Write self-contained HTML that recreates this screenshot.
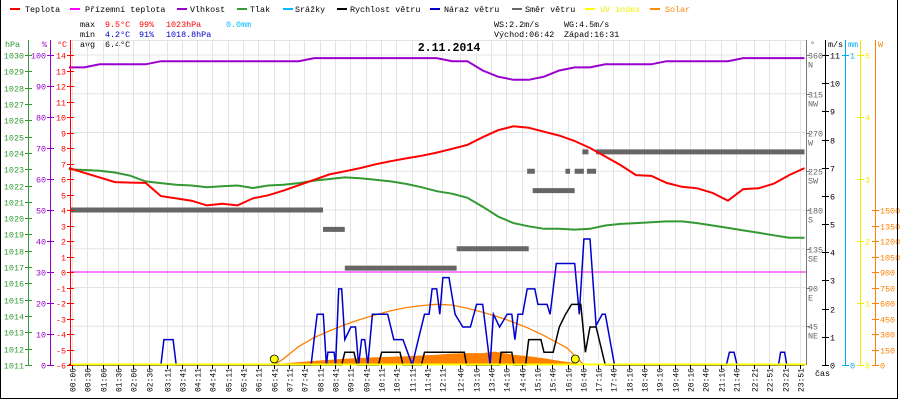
<!DOCTYPE html>
<html><head><meta charset="utf-8"><style>
html,body{margin:0;padding:0;background:#fff;}
svg{display:block;font-family:"Liberation Mono",monospace;}
</style></head><body>
<svg id="chart" width="900" height="400" xmlns="http://www.w3.org/2000/svg">
<rect x="0" y="0" width="900" height="400" fill="#fff"/>
<g font-size="8.4">
 <g><rect x="10" y="8" width="10" height="2" fill="#f00"/><text x="25" y="12">Teplota</text></g>
 <g><rect x="70" y="8" width="10" height="2" fill="#f0f"/><text x="85" y="12">Přízemní teplota</text></g>
 <g><rect x="177" y="8" width="10" height="2" fill="#90c"/><text x="190" y="12">Vlhkost</text></g>
 <g><rect x="237" y="8" width="10" height="2" fill="#393"/><text x="250" y="12">Tlak</text></g>
 <g><rect x="283" y="8" width="10" height="2" fill="#0bf"/><text x="295" y="12">Srážky</text></g>
 <g><rect x="337" y="8" width="10" height="2" fill="#000"/><text x="350" y="12">Rychlost větru</text></g>
 <g><rect x="430" y="8" width="10" height="2" fill="#00c"/><text x="444" y="12">Náraz větru</text></g>
 <g><rect x="512" y="8" width="10" height="2" fill="#666"/><text x="525" y="12">Směr větru</text></g>
 <g><rect x="585" y="8" width="10" height="2" fill="#ff0"/><text x="600" y="12" fill="#ee0">UV index</text></g>
 <g><rect x="650" y="8" width="10" height="2" fill="#f80"/><text x="665" y="12" fill="#f80">Solar</text></g>
</g>
<g font-size="8.4">
 <text x="80" y="27">max</text><text x="105" y="27" fill="#f00">9.5°C</text><text x="139" y="27" fill="#f00">99%</text><text x="166" y="27" fill="#f00">1023hPa</text><text x="226" y="27" fill="#0bf">0.0mm</text>
 <text x="80" y="37">min</text><text x="105" y="37" fill="#00c">4.2°C</text><text x="139" y="37" fill="#00c">91%</text><text x="166" y="37" fill="#00c">1018.8hPa</text>
 <text x="80" y="47">avg</text><text x="105" y="47">6.4°C</text>
 <text x="494" y="27">WS:2.2m/s</text><text x="564" y="27">WG:4.5m/s</text>
 <text x="494" y="37">Východ:06:42</text><text x="564" y="37">Západ:16:31</text>
</g>
<g id="grid"></g>
<rect x="416" y="41" width="66" height="12" fill="#fff"/>
<text x="449" y="51" font-size="11.6" font-weight="bold" text-anchor="middle">2.11.2014</text>
<g id="series"></g>
<g id="axes" font-size="8.4"></g>
<text x="815" y="376" font-size="8.4">čas</text>
<path d="M0.5,0 V398.5 H897.5 V0" fill="none" stroke="#000"/>
</svg>
<script>
const tempValues=[6.7,6.4,6.1,5.8,5.77,5.75,4.9,4.75,4.6,4.3,4.4,4.3,4.75,4.95,5.25,5.6,5.95,6.3,6.5,6.7,6.95,7.15,7.33,7.5,7.7,7.95,8.2,8.7,9.15,9.4,9.3,9.05,8.8,8.45,8.0,7.45,6.9,6.25,6.2,5.75,5.5,5.4,5.1,4.6,5.35,5.4,5.7,6.25,6.7];
const humValues=[96,96,97,97,97,97,98,98,98,98,98,98,98,98,98,98,99,99,99,99,99,99,99,99,99,98,98,95,93,92,92,93,95,96,96,97,97,97,97,98,98,98,98,98,99,99,99,99,99];
const pressValues=[1023.0,1022.95,1022.9,1022.8,1022.6,1022.25,1022.15,1022.05,1022.0,1021.9,1021.95,1022.0,1021.85,1022.0,1022.05,1022.15,1022.3,1022.4,1022.5,1022.45,1022.35,1022.25,1022.1,1021.9,1021.65,1021.5,1021.25,1020.7,1020.1,1019.7,1019.5,1019.35,1019.35,1019.3,1019.35,1019.55,1019.65,1019.7,1019.75,1019.8,1019.8,1019.7,1019.55,1019.4,1019.25,1019.1,1018.95,1018.8,1018.8];
const sampleStepHours=0.5;
const gustT=[0,3.0,3.1,3.4,3.5,7.9,8.0,8.1,8.3,8.4,8.45,8.65,8.7,8.8,8.9,9.0,9.2,9.35,9.45,9.55,9.65,9.75,9.9,10.4,10.6,10.9,11.2,11.4,11.6,11.75,11.85,12.0,12.1,12.2,12.4,12.6,12.85,13.1,13.3,13.5,13.74,13.85,14.05,14.3,14.45,14.55,14.65,14.8,14.95,15.2,15.3,15.6,15.7,15.9,16.5,16.65,16.8,17.0,17.2,17.4,17.5,17.8,21.45,21.55,21.7,21.8,23.15,23.22,23.35,23.42,24];
const gustV=[0,0,0.9,0.9,0,0,0.9,1.8,1.8,0,0.45,0.45,0,2.7,2.7,0.9,1.35,1.35,0,0.9,0.9,0,1.8,1.8,0.9,0.9,0,0.9,1.8,1.8,2.7,2.7,1.8,3.1,3.1,1.8,1.35,1.35,2.15,2.15,0,1.8,1.35,1.8,1.8,0.9,1.8,1.8,2.7,2.7,2.15,2.15,1.8,3.6,3.6,1.8,4.47,4.47,1.4,1.8,1.8,0,0,0.45,0.45,0,0,0.45,0.45,0,0];
const speedT=[0,8.9,9.0,9.3,9.4,10.1,10.2,10.8,10.9,11.5,11.6,12.9,12.97,14.05,14.1,14.45,14.52,14.9,15.0,15.4,15.5,15.8,16.0,16.2,16.4,16.7,16.85,17.0,17.2,17.5,24];
const speedV=[0,0,0.45,0.45,0,0,0.45,0.45,0,0,0.45,0.45,0,0,0.45,0.45,0,0,0.9,0.9,0.45,0.45,1.35,1.8,2.15,2.15,0.45,1.35,1.35,0,0];
const solarT=[6.9,7.0,8,9,10,11,12,12.5,13,13.5,13.9,14.1,14.5,15,15.5,16,16.5,16.8];
const solarV=[0,15,40,60,75,85,100,110,115,115,130,120,100,85,65,40,20,0];
const solarMaxT=[6.7,7.0,7.5,8,8.5,9,9.5,10,10.5,11,11.5,12,12.5,13,13.5,14,14.5,15,15.5,16,16.25,16.5,16.8];
const solarMaxV=[0,60,180,265,330,390,440,485,525,555,575,587,580,550,510,465,415,355,285,205,165,90,0];
const dirStart=[0,8.29,9.0,12.65,14.95,15.13,16.3,16.2,16.5,16.9,16.75,17.2];
const dirEnd=[8.29,9.0,12.65,15.0,15.2,16.3,16.5,16.35,16.8,17.2,16.95,24];
const dirDeg=[180,157.5,112.5,135,225,202.5,202.5,225,225,225,247.5,247.5];
const sunEvents=[6.7,16.52];
const timeLabels=["00:06","00:36","01:06","01:36","02:06","02:36","03:11","03:41","04:11","04:41","05:11","05:41","06:11","06:41","07:11","07:41","08:11","08:41","09:11","09:41","10:11","10:41","11:11","11:41","12:11","12:46","13:16","13:46","14:16","14:46","15:16","15:46","16:16","16:46","17:16","17:46","18:16","18:46","19:16","19:46","20:16","20:46","21:16","21:46","22:21","22:51","23:21","23:51"];
const NS="http://www.w3.org/2000/svg";
const xS=h=>72+(h-0.1)*30.65;
const yT=t=>272-t*15.5;
const yH=p=>365-p*3.1;
const yP=v=>365-(v-1011)*310/19;
const yW=v=>365-v*310/11;
const yD=d=>365-d*310/360;
const yS=w=>365-w*310/3000;
const yUV=u=>365-u*62;
function el(tag,attrs,parent){const e=document.createElementNS(NS,tag);for(const k in attrs)e.setAttribute(k,attrs[k]);parent.appendChild(e);return e;}
const grid=document.getElementById('grid'),ser=document.getElementById('series'),ax=document.getElementById('axes');
function labelX(s){const p=s.split(':');return xS(+p[0]+p[1]/60);}
for(let k=0;k<8;k++){const g=el('line',{x1:71,x2:806,y1:55+38.75*k,y2:55+38.75*k,stroke:'#e4e4e4'},grid);

}
const gt=el('line',{x1:71,x2:806,y1:40.5,y2:40.5,stroke:'#e4e4e4'},grid);


timeLabels.forEach(s=>{const x=Math.round(labelX(s))+0.5;
const g=el('line',{x1:x,x2:x,y1:40,y2:365,stroke:'#e4e4e4'},grid);


const tk=el('line',{x1:x,x2:x,y1:365,y2:369,stroke:'#000'},ax);


const t=el('text',{x:x+3,y:368,'text-anchor':'end',transform:`rotate(-90 ${x+3} 368)`,'font-size':'8'},ax);
t.textContent=s;

});
function pathFrom(ts,vs,fx,fy){return ts.map((t,i)=>(i?'L':'M')+fx(t).toFixed(1)+','+fy(vs[i]).toFixed(1)).join(' ');}
const stepTimes=tempValues.map((_,i)=>i*sampleStepHours);
const sa=el('path',{d:pathFrom(solarT,solarV,xS,yS)+'Z',fill:'#ff8000',stroke:'none'},ser);


const sm=el('path',{d:pathFrom(solarMaxT,solarMaxV,xS,yS),fill:'none',stroke:'#ff8000','stroke-width':1.3},ser);


const ap=el('line',{x1:71,x2:806,y1:yT(0),y2:yT(0),stroke:'#f0f','stroke-width':1},ser);


dirDeg.forEach((d,i)=>{const r=el('rect',{x:Math.max(71,xS(dirStart[i])),y:yD(d)-2.5,width:xS(dirEnd[i])-Math.max(71,xS(dirStart[i])),height:5,fill:'#666'},ser);

});
const pr=el('path',{d:pathFrom(stepTimes,pressValues,xS,yP),fill:'none',stroke:'#339933','stroke-width':2},ser);


const hu=el('path',{d:pathFrom(stepTimes,humValues,xS,yH),fill:'none',stroke:'#9900cc','stroke-width':2},ser);


const te=el('path',{d:pathFrom(stepTimes,tempValues,xS,yT),fill:'none',stroke:'#ff0000','stroke-width':2},ser);


const gu=el('path',{d:pathFrom(gustT,gustV,xS,yW),fill:'none',stroke:'#0000cc','stroke-width':1.5},ser);


const sp=el('path',{d:pathFrom(speedT,speedV,xS,yW),fill:'none',stroke:'#000','stroke-width':1.5},ser);


const uv=el('line',{x1:71,x2:806,y1:364.5,y2:364.5,stroke:'#ff0','stroke-width':2},ser);


sunEvents.forEach(h=>{const c=el('circle',{cx:xS(h),cy:359,r:4,fill:'#ff0',stroke:'#000','stroke-width':0.8},ser);

});
function axis(name,x,color,ticks,fy,labelFn,side,top){
 const l=el('line',{x1:x+0.5,x2:x+0.5,y1:top,y2:365,stroke:color},ax);
 
 
 ticks.forEach(v=>{const y=Math.round(fy(v))+0.5;
  const t=el('line',{x1:x-3,x2:x+4,y1:y,y2:y,stroke:color},ax);
  
  
  const s=labelFn(v);if(s===null)return;
  const tx=el('text',{x:side<0?x-4:x+5,y:y+3,'text-anchor':side<0?'end':'start',fill:color},ax);
  tx.textContent=s;
  
  });
}
const range=(a,b,s)=>{const r=[];for(let v=a;v<=b+1e-9;v+=s)r.push(v);return r;};
axis('pressure-axis',28,'#339933',range(1011,1030,1),yP,v=>String(v),-1,40);
axis('humidity-axis',50,'#9900cc',range(0,100,10),yH,v=>String(v),-1,40);
axis('temperature-axis',70,'#ff0000',range(-6,14,1),yT,v=>String(v),-1,40);
axis('wind-speed-axis',825,'#000',range(0,11,1),yW,v=>String(v),1,40);
axis('rain-axis',845,'#00aaee',[0,1],v=>365-v*310,v=>String(v),1,40);
axis('uv-axis',860,'#eeee00',range(0,5,1),yUV,v=>String(v),1,40);
axis('solar-axis',875,'#ff8000',range(0,1500,150),yS,v=>String(v),1,40);
const dl=el('line',{x1:806.5,x2:806.5,y1:40,y2:365,stroke:'#777'},ax);


const dirNames=['','NE','E','SE','S','SW','W','NW','N'];
for(let k=1;k<=8;k++){const d=k*45,y=Math.round(yD(d))+0.5;
 const t=el('line',{x1:806,x2:810,y1:y,y2:y,stroke:'#777'},ax);
 
 
 const a=el('text',{x:808,y:y+3,fill:'#666'},ax);a.textContent=String(d);
 
 
 const b=el('text',{x:808,y:y+12,fill:'#666'},ax);b.textContent=dirNames[k];
 
 }
[['hPa',5,'#339933'],['%',42,'#9900cc'],['°C',57,'#f00'],['°',810,'#666'],['m/s',828,'#000'],['mm',848,'#00aaee'],['W',878,'#ff8000']].forEach(u=>{
 const t=el('text',{x:u[1],y:47,fill:u[2]},ax);t.textContent=u[0];
 
 });
</script>
</body></html>
